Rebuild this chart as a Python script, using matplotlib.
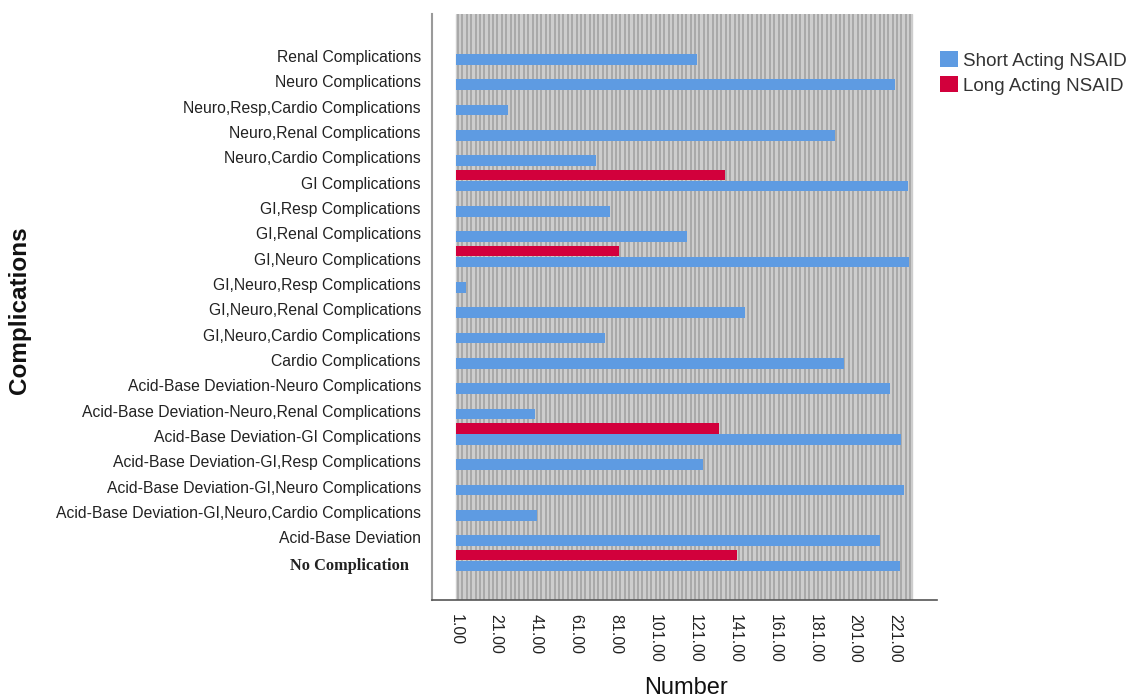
import numpy as np
import matplotlib.pyplot as plt
import matplotlib.transforms as mtransforms

# categories, top to bottom as shown
categories = [
    'Renal Complications',
    'Neuro Complications',
    'Neuro,Resp,Cardio Complications',
    'Neuro,Renal Complications',
    'Neuro,Cardio Complications',
    'GI Complications',
    'GI,Resp Complications',
    'GI,Renal Complications',
    'GI,Neuro Complications',
    'GI,Neuro,Resp Complications',
    'GI,Neuro,Renal Complications',
    'GI,Neuro,Cardio Complications',
    'Cardio Complications',
    'Acid-Base Deviation-Neuro Complications',
    'Acid-Base Deviation-Neuro,Renal Complications',
    'Acid-Base Deviation-GI Complications',
    'Acid-Base Deviation-GI,Resp Complications',
    'Acid-Base Deviation-GI,Neuro Complications',
    'Acid-Base Deviation-GI,Neuro,Cardio Complications',
    'Acid-Base Deviation',
    'No Complication',
]
short_acting = [122, 221, 27, 191, 71, 227.5, 78, 117, 228, 6, 146, 75.5,
                195.5, 218.5, 40.5, 224, 125, 225.5, 41.5, 213.5, 223.5]
long_acting = [np.nan, np.nan, np.nan, np.nan, np.nan, 136, np.nan, np.nan, 82.5,
               np.nan, np.nan, np.nan, np.nan, np.nan, np.nan, 133, np.nan, np.nan,
               np.nan, np.nan, 142]
xticks = np.arange(1, 222, 20)

blue = '#5e9be2'
red = '#d2003c'
start = 1

plt.rcParams['font.family'] = ['Liberation Sans', 'DejaVu Sans']
fig = plt.figure(figsize=(11.37, 7), dpi=100)
ax = fig.add_axes([432/1137, 100/700, 505/1137, 586/700])

n = len(categories)
y = np.arange(n)[::-1]

# striped grey plot area
ax.axvspan(start, 229.5, color='#cdcdcd', zorder=0)
ax.vlines(np.arange(start + 1, 229.5, 2.2), -2, 23, color='#a8a8a8', lw=1.4, zorder=0.5)

s = np.array(short_acting)
l = np.array(long_acting)
ax.barh(y - 0.13, s - start, left=start, height=0.42, color=blue, zorder=2,
        label='Short Acting NSAID')
m = ~np.isnan(l)
ax.barh(y[m] + 0.3, l[m] - start, left=start, height=0.4, color=red, zorder=2,
        label='Long Acting NSAID')

ax.set_xlim(-11, 242)
ax.set_ylim(-1.47, 21.66)
ax.set_xticks(xticks)
ax.set_xticklabels(['%.2f' % v for v in xticks], rotation=270, fontsize=11.5,
                   color='#222222')
ax.set_yticks(y)
ax.set_yticklabels(categories, fontsize=11.3, color='#222222')
ax.tick_params(axis='both', length=0)
ax.tick_params(axis='y', pad=8)
ax.tick_params(axis='x', pad=10)

lab = ax.get_yticklabels()[-1]
lab.set_family('Liberation Serif')
lab.set_fontweight('bold')
lab.set_fontsize(11.8)
lab.set_transform(lab.get_transform() + mtransforms.ScaledTranslation(-12/100, -0.01, fig.dpi_scale_trans))

for sp in ['top', 'right']:
    ax.spines[sp].set_visible(False)
ax.spines['left'].set_color('#9a9a9a')
ax.spines['left'].set_linewidth(1.5)
ax.spines['bottom'].set_color('#555555')
ax.spines['bottom'].set_linewidth(1.2)

fig.text(20/1137, 1 - 310/700, 'Complications', rotation=90, ha='center', va='center',
         fontsize=17.5, fontweight='bold', color='#111111')
fig.text(686/1137, 1 - 688/700, 'Number', ha='center', va='center',
         fontsize=17, color='#111111')

leg = ax.legend(loc='upper left', bbox_to_anchor=(940/1137, 1 - 51/700),
                bbox_transform=fig.transFigure, frameon=False, fontsize=13.5,
                handlelength=0.95, handleheight=0.95, handletextpad=0.3,
                labelspacing=0.35, borderpad=0, borderaxespad=0)
for t in leg.get_texts():
    t.set_color('#333333')

fig.savefig('out.png', dpi=100)
